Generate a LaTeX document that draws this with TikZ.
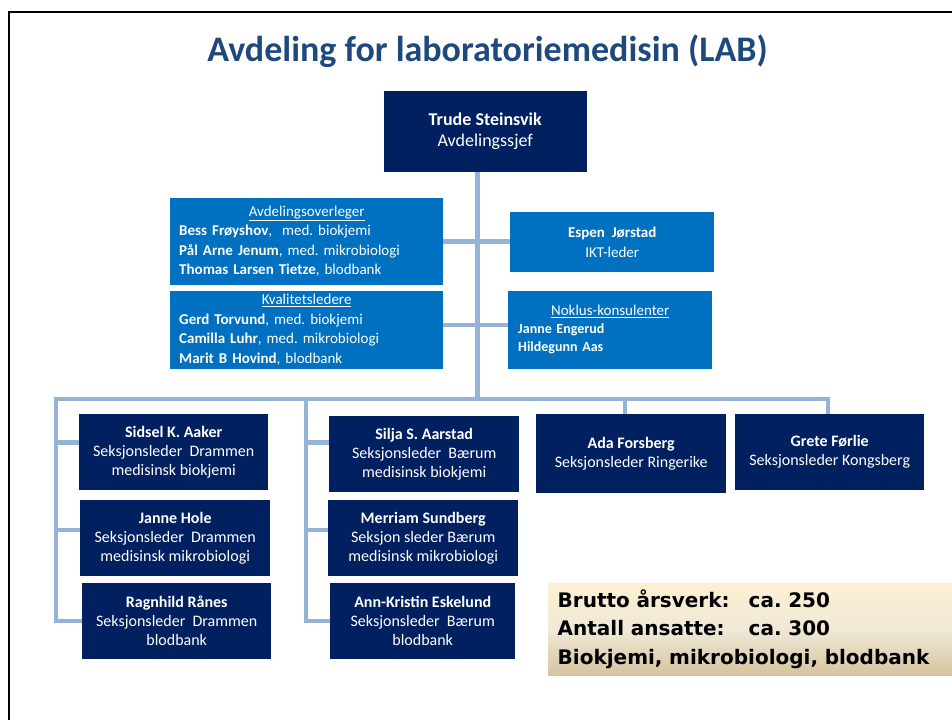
\documentclass[tikz,border=0pt]{standalone}
\usepackage{fontspec}
\setmainfont{Carlito}
\newfontfamily\infofont{DejaVu Sans}
\usepackage{tikz}
\usetikzlibrary{positioning, calc}
\usepackage{xcolor}
\definecolor{navy}{HTML}{002060}
\definecolor{midblue}{HTML}{0070C0}
\definecolor{linkblue}{HTML}{95B3D7}
\definecolor{titleblue}{HTML}{1F497D}
\definecolor{creamtop}{HTML}{FDEFD2}
\definecolor{creammid}{HTML}{EFE9D6}
\definecolor{tanbot}{HTML}{D6C4A0}
\frenchspacing

\begin{document}
\begin{tikzpicture}[x=1pt, y=-1pt,
      chief/.style={fill=navy, text=white, anchor=north west, inner sep=0pt,
                    align=center, font=\fontsize{18}{21.6}\selectfont},
      staff/.style={fill=midblue, text=white, anchor=north west, inner ysep=0pt,
                    font=\fontsize{15}{19.5}\selectfont},
      sect/.style={fill=navy, text=white, anchor=north west, inner sep=0pt,
                   align=center, font=\fontsize{16}{19}\selectfont},
      link/.style={draw=linkblue, line width=4.5pt},
      frame/.style={draw=black, line width=2.5pt}]
    \useasboundingbox (0,0) rectangle (952,720);
    \draw[frame] (952,12) -- (9,12) -- (9,720);
    \node[font=\fontsize{36}{40}\selectfont\bfseries, text=titleblue, anchor=base] (title) at (487.5,61) {Avdeling for laboratoriemedisin (LAB)};
    \node[chief, minimum width=203pt, minimum height=81pt] (trude) at (383.5,90.5) {\textbf{Trude Steinsvik}\\Avdelingssjef};
    \node[staff, minimum width=273pt, minimum height=87.5pt, inner xsep=9pt, text width=255pt, align=left] (aovl) at (170,197.5)
      {\makebox[255pt]{\underline{Avdelingsoverleger}}\\
       \textbf{Bess Frøyshov},\ \ med. biokjemi\\
       \textbf{Pål Arne Jenum}, med. mikrobiologi\\
       \textbf{Thomas Larsen Tietze}, blodbank};
    \node[staff, minimum width=273pt, minimum height=78pt, inner xsep=9pt, text width=255pt, align=left] (kval) at (170,290.5)
      {\makebox[255pt]{\underline{Kvalitetsledere}}\\
       \textbf{Gerd Torvund}, med. biokjemi\\
       \textbf{Camilla Luhr}, med. mikrobiologi\\
       \textbf{Marit B Hovind}, blodbank};
    \node[staff, minimum width=204pt, minimum height=60pt, inner xsep=0pt, align=center] (espen) at (510,212)
      {\textbf{Espen\ \ Jørstad}\\IKT-leder};
    \node[staff, minimum width=204pt, minimum height=77.5pt, inner xsep=10pt, text width=184pt, align=left,
          font=\fontsize{14}{18}\selectfont] (noklus) at (508,291)
      {\makebox[184pt]{\fontsize{15}{18}\selectfont\underline{Noklus-konsulenter}}\\
       \textbf{Janne Engerud}\\
       \textbf{Hildegunn Aas}};
    \node[sect, minimum width=189pt, minimum height=75.5pt] (sidsel) at (79,414)
      {\textbf{Sidsel K. Aaker}\\Seksjonsleder\ \ Drammen\\medisinsk biokjemi};
    \node[sect, minimum width=190pt, minimum height=76pt] (janne) at (80,500)
      {\textbf{Janne Hole}\\Seksjonsleder\ \ Drammen\\medisinsk mikrobiologi};
    \node[sect, minimum width=189pt, minimum height=75.5pt] (ragn) at (82,583)
      {\textbf{Ragnhild Rånes}\\Seksjonsleder\ \ Drammen\\blodbank};
    \node[sect, minimum width=190pt, minimum height=76pt] (silja) at (329,416)
      {\textbf{Silja S. Aarstad}\\Seksjonsleder\ \ Bærum\\medisinsk biokjemi};
    \node[sect, minimum width=190pt, minimum height=76pt] (merriam) at (328,500)
      {\textbf{Merriam Sundberg}\\Seksjon sleder Bærum\\medisinsk mikrobiologi};
    \node[sect, minimum width=185pt, minimum height=75.5pt] (ann) at (330,583)
      {\textbf{Ann-Kristin Eskelund}\\Seksjonsleder\ \ Bærum\\blodbank};
    \node[sect, minimum width=190pt, minimum height=79pt] (ada) at (536,414)
      {\textbf{Ada Forsberg}\\Seksjonsleder Ringerike};
    \node[sect, minimum width=189pt, minimum height=75.5pt] (grete) at (735,414)
      {\textbf{Grete Førlie}\\Seksjonsleder Kongsberg};
    \node[anchor=north west, top color=creamtop, bottom color=tanbot, middle color=creammid,
          minimum width=404pt, minimum height=92pt, inner ysep=0pt, inner xsep=9.5pt,
          text width=385pt, align=left, font=\infofont\bfseries\fontsize{20}{28.7}\selectfont] (info) at (548,583)
      {\makebox[191pt][l]{Brutto årsverk:}ca. 250\\
       \makebox[191pt][l]{Antall ansatte:}ca. 300\\
       Biokjemi, mikrobiologi, blodbank};
    \coordinate (bus) at (477.5,399);
    \coordinate (lcol) at (56,399);
    \coordinate (mcol) at (306,399);
    \coordinate (rend) at (828,399);
    \draw[link] (trude.south -| bus) -- (bus);
    \draw[link] (aovl.east) -- (aovl.east -| espen.west);
    \draw[link] ([yshift=4.5pt]kval.east) -- ([yshift=4.5pt]kval.east -| noklus.west);
    \draw[link] (grete.north -| rend) -- (rend) -- (lcol) |- (ragn.west);
    \draw[link] (lcol) |- ([yshift=9.5pt]sidsel.west);
    \draw[link] (lcol) |- ([yshift=8pt]janne.west);
    \draw[link] (mcol) |- (ann.west);
    \draw[link] (mcol) |- ([yshift=11.5pt]silja.west);
    \draw[link] (mcol) |- ([yshift=8pt]merriam.west);
    \draw[link] (rend -| ada.north) ++(-6,0) -- ([xshift=-6pt]ada.north);
  \end{tikzpicture}
\end{document}
